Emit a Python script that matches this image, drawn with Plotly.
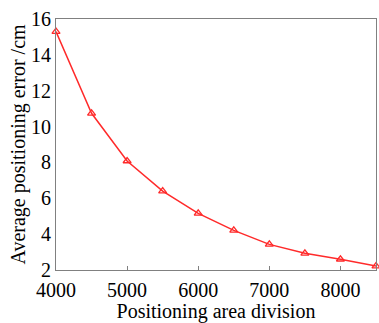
import plotly.graph_objects as go

divisions = [4000, 4500, 5000, 5500, 6000, 6500, 7000, 7500, 8000, 8500]
errors = [15.3, 10.74, 8.08, 6.4, 5.16, 4.21, 3.43, 2.93, 2.6, 2.22]
x_ticks = [4000, 5000, 6000, 7000, 8000]
y_ticks = [2, 4, 6, 8, 10, 12, 14, 16]

font_family = "Liberation Serif, DejaVu Serif, serif"

fig = go.Figure()
fig.add_trace(go.Scatter(
    x=divisions, y=errors, mode="lines+markers",
    line=dict(color="#ff2a2a", width=1.5),
    marker=dict(symbol="triangle-up-open", size=7, color="#ff2a2a", line=dict(width=1.3)),
    cliponaxis=False, showlegend=False,
))

fig.update_layout(
    width=379, height=323,
    margin=dict(l=56, r=3, t=19, b=53, autoexpand=False),
    plot_bgcolor="white", paper_bgcolor="white",
    font=dict(family=font_family, size=20, color="black"),
    xaxis=dict(
        range=[4000, 8500], tickvals=x_ticks, ticktext=[str(v) for v in x_ticks],
        showgrid=False, zeroline=False, showline=True, linecolor="#808080", linewidth=1,
        mirror=True, ticks="inside", ticklen=4, tickcolor="#808080", automargin=False,
        ticklabelstandoff=2,
        title=dict(text="Positioning area division", font=dict(size=20), standoff=4),
        tickfont=dict(size=20),
    ),
    yaxis=dict(
        range=[2, 16], tickvals=y_ticks, ticktext=[str(v) for v in y_ticks],
        showgrid=False, zeroline=False, showline=True, linecolor="#808080", linewidth=1,
        mirror=True, ticks="", automargin=False,
        title=dict(text="Average positioning error /cm", font=dict(size=20), standoff=0),
        tickfont=dict(size=20),
    ),
)

fig.write_html(
    "out.html",
    config={"displayModeBar": False},
    post_script="document.body.style.margin='0';document.body.style.overflow='hidden';",
)
